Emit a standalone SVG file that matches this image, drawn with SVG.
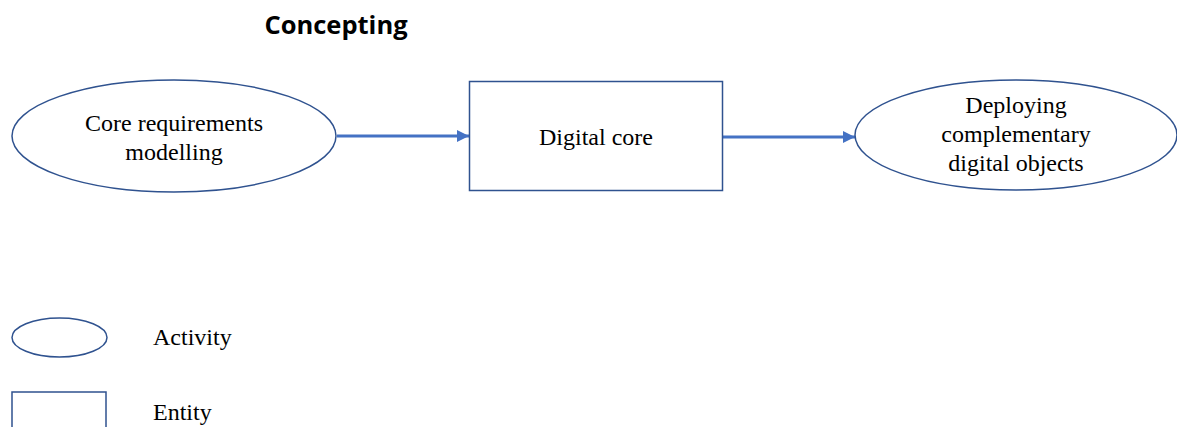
<svg xmlns="http://www.w3.org/2000/svg" width="1177" height="427" viewBox="0 0 1177 427">
<style>
.shape{fill:#fff;stroke:#2F528F;stroke-width:1.5}
.lbl{font-family:"Liberation Serif",serif;font-size:24px;fill:#000;text-anchor:middle}
.leg{font-family:"Liberation Serif",serif;font-size:24px;fill:#000}
.conn{stroke:#4472C4;stroke-width:3;fill:none;marker-end:url(#ah)}
</style>
<defs>
<marker id="ah" viewBox="0 0 10 10" refX="10" refY="5" markerWidth="4" markerHeight="4" orient="auto" markerUnits="strokeWidth">
<path d="M0,0 L10,5 L0,10 z" fill="#4472C4"/>
</marker>
</defs>
<rect width="1177" height="427" fill="#fff"/>
<text x="336" y="34" font-family="'Open Sans','Liberation Sans',sans-serif" font-weight="bold" font-size="25.5" text-anchor="middle">Concepting</text>
<g id="connectors">
<line class="conn" x1="337" y1="136" x2="469" y2="136"/>
<line class="conn" x1="723" y1="137" x2="855" y2="137"/>
</g>
<g id="node-core-req">
<ellipse class="shape" cx="174" cy="136" rx="162" ry="56"/>
<text class="lbl" x="174" y="131">Core requirements</text>
<text class="lbl" x="174" y="160">modelling</text>
</g>
<g id="node-digital-core">
<rect class="shape" x="469.5" y="81.5" width="253" height="109"/>
<text class="lbl" x="596" y="145">Digital core</text>
</g>
<g id="node-deploying">
<ellipse class="shape" cx="1016" cy="135" rx="161" ry="55"/>
<text class="lbl" x="1016" y="113">Deploying</text>
<text class="lbl" x="1016" y="142">complementary</text>
<text class="lbl" x="1016" y="171">digital objects</text>
</g>
<g id="legend-activity">
<ellipse class="shape" cx="59.5" cy="337.5" rx="47.5" ry="19.5"/>
<text class="leg" x="153" y="345">Activity</text>
</g>
<g id="legend-entity">
<rect class="shape" x="12" y="392" width="94" height="50"/>
<text class="leg" x="153" y="420">Entity</text>
</g>
</svg>
